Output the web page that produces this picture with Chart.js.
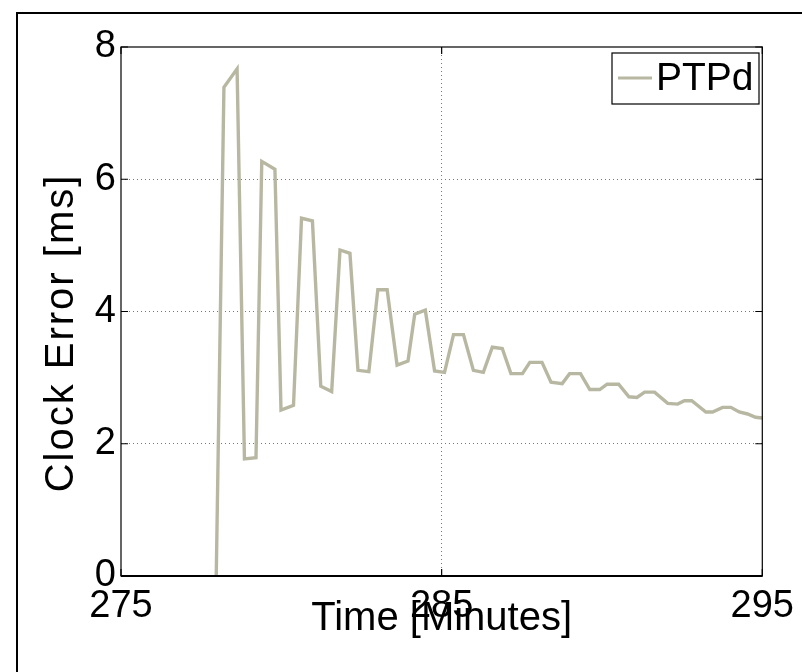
<!DOCTYPE html>
<html>
<head>
<meta charset="utf-8">
<script src="https://cdn.jsdelivr.net/npm/chart.js"></script>
<style>
  html, body { margin: 0; padding: 0; background: #fff; }
  canvas { display: block; }
</style>
</head>
<body>
<canvas id="clockChart" width="802" height="672"></canvas>
<script>
    // time in minutes, clock error in ms
    const timeMin = [277.97, 278.21, 278.62, 278.85, 279.21, 279.39, 279.80, 279.99, 280.38, 280.63,
        280.97, 281.23, 281.57, 281.83, 282.14, 282.39, 282.73, 283.01, 283.30, 283.61,
        283.95, 284.16, 284.49, 284.78, 285.09, 285.37, 285.68, 285.99, 286.30, 286.58,
        286.89, 287.16, 287.52, 287.75, 288.13, 288.41, 288.76, 288.99, 289.33, 289.62,
        289.93, 290.16, 290.52, 290.84, 291.09, 291.33, 291.64, 292.05, 292.36, 292.57,
        292.80, 293.24, 293.45, 293.76, 294.02, 294.28, 294.54, 294.79, 295.00];
    const clockErrorMs = [0, 7.39, 7.67, 1.77, 1.79, 6.27, 6.15, 2.51, 2.58, 5.41,
        5.37, 2.87, 2.79, 4.93, 4.88, 3.11, 3.09, 4.33, 4.33, 3.19,
        3.25, 3.96, 4.02, 3.10, 3.08, 3.65, 3.65, 3.11, 3.08, 3.46,
        3.44, 3.06, 3.06, 3.23, 3.23, 2.93, 2.91, 3.06, 3.06, 2.82,
        2.82, 2.90, 2.90, 2.71, 2.70, 2.78, 2.78, 2.61, 2.60, 2.65,
        2.65, 2.48, 2.48, 2.55, 2.55, 2.48, 2.45, 2.40, 2.39];
    const xTicks = [275, 285, 295];
    const yTicks = [0, 2, 4, 6, 8];
    const seriesName = 'PTPd';
    const lineColor = 'rgb(184, 184, 162)';
    const font = 'Liberation Sans, Arial, sans-serif';

    const points = timeMin.map((t, i) => ({ x: t, y: clockErrorMs[i] }));

    // axes box, inward ticks, titles, legend and outer frame (matlab look)
    const matlabBits = {
        id: 'matlabBits',
        beforeDraw(chart) {
            const c = chart.ctx;
            c.save();
            c.fillStyle = '#fff';
            c.fillRect(0, 0, chart.width, chart.height);
            c.restore();
        },
        afterDraw(chart) {
            const c = chart.ctx;
            const a = chart.chartArea;
            const xs = chart.scales.x, ys = chart.scales.y;
            c.save();
            c.strokeStyle = '#000';
            c.lineWidth = 1.2;
            c.strokeRect(a.left, a.top, a.right - a.left, a.bottom - a.top);
            c.lineWidth = 2;
            c.beginPath();
            c.moveTo(a.left, a.bottom); c.lineTo(a.right, a.bottom);
            c.stroke();

            c.lineWidth = 1.2;
            c.beginPath();
            xTicks.forEach(v => {
                const px = xs.getPixelForValue(v);
                c.moveTo(px, a.bottom); c.lineTo(px, a.bottom - 7);
                c.moveTo(px, a.top); c.lineTo(px, a.top + 7);
            });
            yTicks.forEach(v => {
                const py = ys.getPixelForValue(v);
                c.moveTo(a.left, py); c.lineTo(a.left + 7, py);
                c.moveTo(a.right, py); c.lineTo(a.right - 7, py);
            });
            c.stroke();

            // axis titles
            c.fillStyle = '#000';
            c.font = '40px ' + font;
            c.textAlign = 'center';
            c.textBaseline = 'middle';
            c.fillText('Time [Minutes]', (a.left + a.right) / 2, 619);
            c.save();
            c.translate(62, 333);
            c.rotate(-Math.PI / 2);
            c.letterSpacing = '2px';
            c.fillText('Clock Error [ms]', 0, 0);
            c.restore();

            // legend
            c.fillStyle = '#fff';
            c.fillRect(612, 53, 147, 51);
            c.strokeStyle = '#000';
            c.lineWidth = 1.2;
            c.strokeRect(612, 53, 147, 51);
            c.strokeStyle = lineColor;
            c.lineWidth = 3;
            c.beginPath();
            c.moveTo(618, 78); c.lineTo(652, 78);
            c.stroke();
            c.fillStyle = '#000';
            c.textAlign = 'left';
            c.font = '39px ' + font;
            c.fillText(seriesName, 656, 79);

            // outer figure frame
            c.strokeStyle = '#000';
            c.lineWidth = 2;
            c.strokeRect(17, 13, 820, 700);
            c.restore();
        }
    };

    new Chart(document.getElementById('clockChart'), {
        type: 'line',
        data: {
            datasets: [{
                label: seriesName,
                data: points,
                borderColor: lineColor,
                borderWidth: 3.4,
                pointRadius: 0,
                tension: 0,
                fill: false
            }]
        },
        options: {
            responsive: false,
            animation: false,
            layout: { padding: { top: 47, right: 37, left: 0, bottom: 0 } },
            plugins: {
                legend: { display: false },
                tooltip: { enabled: false }
            },
            scales: {
                x: {
                    type: 'linear',
                    min: 275, max: 295,
                    afterBuildTicks: s => { s.ticks = xTicks.map(v => ({ value: v })); },
                    afterFit: s => { s.height = 96; },
                    border: { display: false, dash: [1, 3] },
                    grid: {
                        drawTicks: false,
                        color: ctx => (ctx.tick && ctx.tick.value === 285) ? '#777' : 'transparent',
                        lineWidth: 1
                    },
                    ticks: {
                        padding: 8,
                        color: '#000',
                        maxRotation: 0,
                        font: { family: font, size: 38 }
                    }
                },
                y: {
                    min: 0, max: 8,
                    afterBuildTicks: s => { s.ticks = yTicks.map(v => ({ value: v })); },
                    afterFit: s => { s.width = 121; },
                    border: { display: false, dash: [1, 3] },
                    grid: {
                        drawTicks: false,
                        color: ctx => (ctx.tick && ctx.tick.value > 0 && ctx.tick.value < 8) ? '#777' : 'transparent',
                        lineWidth: 1
                    },
                    ticks: {
                        padding: 5,
                        color: '#000',
                        font: { family: font, size: 38 }
                    }
                }
            }
        },
        plugins: [matlabBits]
    });
</script>
</body>
</html>
